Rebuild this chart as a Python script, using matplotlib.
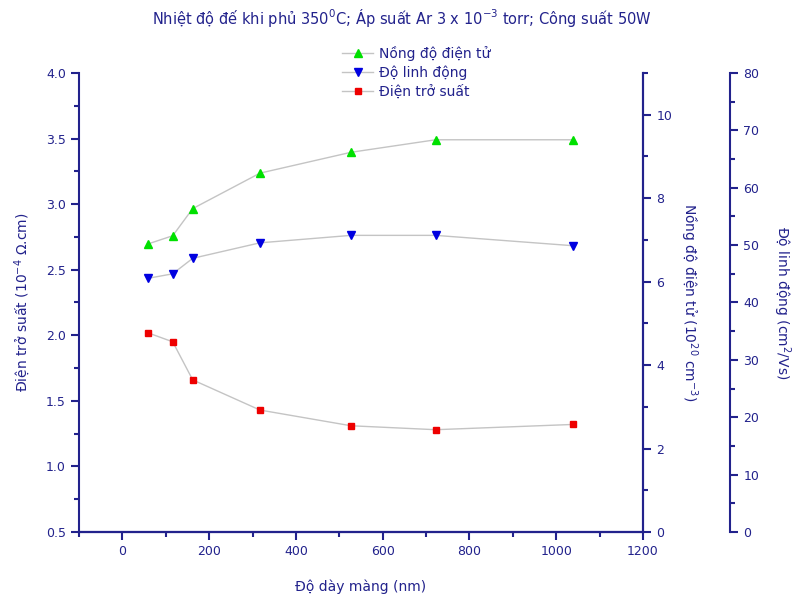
import matplotlib
matplotlib.use("Agg")
import matplotlib.pyplot as plt
from matplotlib.ticker import MultipleLocator, FormatStrFormatter

thickness = [58, 116, 162, 317, 527, 722, 1038]
resistivity = [2.02, 1.95, 1.66, 1.43, 1.31, 1.28, 1.32]
concentration = [6.9, 7.1, 7.75, 8.6, 9.1, 9.4, 9.4]
mobility = [44.2, 45.0, 47.7, 50.4, 51.7, 51.7, 49.9]

navy = "#22228c"
line_gray = "#c4c4c4"

plt.rcParams["font.family"] = ["DejaVu Sans"]
plt.rcParams["text.color"] = navy
plt.rcParams["axes.labelcolor"] = navy

fig = plt.figure(figsize=(7.95, 5.95), dpi=100)
ax = fig.add_axes([0.0994, 0.1059, 0.7094, 0.7714])
ax_n = ax.twinx()
ax_mu = ax.twinx()
# third axis sits 87 px to the right of the main frame (offset given in points)
ax_mu.spines["right"].set_position(("outward", 87 * 72 / 100))

h1, = ax_n.plot(thickness, concentration, color=line_gray, lw=1, marker="^", ms=5.5,
                mfc="#00e000", mec="#00e000", label="Nồng độ điện tử")
h2, = ax_mu.plot(thickness, mobility, color=line_gray, lw=1, marker="v", ms=5.5,
                 mfc="#0000e0", mec="#0000e0", label="Độ linh động")
h3, = ax.plot(thickness, resistivity, color=line_gray, lw=1, marker="s", ms=4.5,
              mfc="#ee0000", mec="#ee0000", label="Điện trở suất")

ax.set_xlim(-100, 1200)
ax.set_ylim(0.5, 4.0)
ax_n.set_ylim(0, 11)
ax_mu.set_ylim(0, 80)

ax.xaxis.set_major_locator(MultipleLocator(200))
ax.xaxis.set_minor_locator(MultipleLocator(100))
ax.yaxis.set_major_locator(MultipleLocator(0.5))
ax.yaxis.set_minor_locator(MultipleLocator(0.25))
ax.yaxis.set_major_formatter(FormatStrFormatter("%.1f"))
ax_n.yaxis.set_major_locator(MultipleLocator(2))
ax_n.yaxis.set_minor_locator(MultipleLocator(1))
ax_mu.yaxis.set_major_locator(MultipleLocator(10))
ax_mu.yaxis.set_minor_locator(MultipleLocator(5))

for a in (ax, ax_n, ax_mu):
    for s in a.spines.values():
        s.set_color(navy)
        s.set_linewidth(1.5)
    a.spines["top"].set_visible(False)
    a.tick_params(which="both", colors=navy, labelcolor=navy, width=1.5, labelsize=9)
    a.tick_params(which="major", length=6)
    a.tick_params(which="minor", length=3.5)
    a.patch.set_visible(False)

ax_mu.spines["left"].set_visible(False)
ax_n.spines["left"].set_visible(False)

ax.set_xlabel("Độ dày màng (nm)", fontsize=10, labelpad=15)
ax.set_ylabel("Điện trở suất (10$^{-4}$ Ω.cm)", fontsize=10, labelpad=10)
ax_n.set_ylabel("Nồng độ điện tử (10$^{20}$ cm$^{-3}$)", fontsize=10, rotation=270, labelpad=20)
ax_mu.set_ylabel("Độ linh động (cm$^2$/Vs)", fontsize=10, rotation=270, labelpad=24)

fig.suptitle("Nhiệt độ đế khi phủ 350$^0$C; Áp suất Ar 3 x 10$^{-3}$ torr; Công suất 50W",
             x=0.505, y=0.988, fontsize=10.5, color=navy)

fig.legend(handles=[h1, h2, h3], loc="upper left", bbox_to_anchor=(0.422, 0.935),
           frameon=False, fontsize=10, handlelength=2.2, handletextpad=0.4,
           labelspacing=0.35, borderpad=0)

fig.savefig("out.png", dpi=100)
plt.close(fig)
